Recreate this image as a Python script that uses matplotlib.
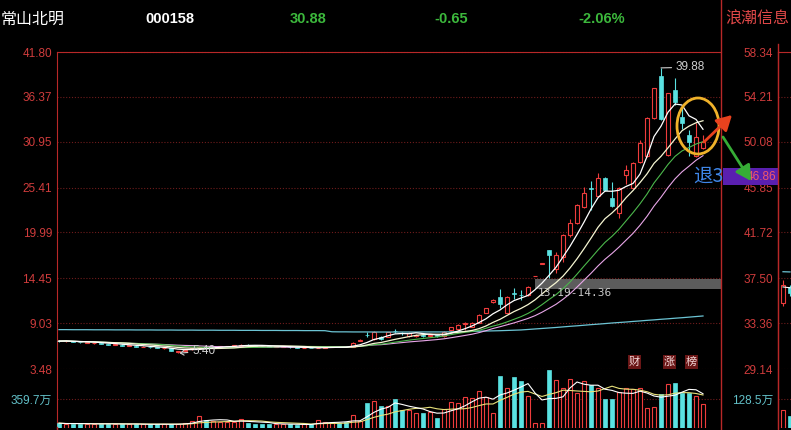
import numpy as np
import pandas as pd
import matplotlib
matplotlib.use("Agg")
import matplotlib.pyplot as plt
from matplotlib.patches import Rectangle, Ellipse

W, H = 791, 430

# ---------------- data (常山北明 000158, daily) ----------------
open_ = [6.92, 6.82, 6.86, 6.76, 6.66, 6.62, 6.62, 6.52, 6.40, 6.42, 6.28, 6.30, 6.14, 6.16, 6.08,
         5.98, 6.00, 5.55, 5.66, 5.84, 5.98, 6.12, 6.06, 6.14, 6.20, 6.26, 6.32, 6.44, 6.36, 6.30,
         6.24, 6.16, 6.16, 6.16, 6.08, 6.00, 6.04, 6.00, 6.04, 6.12, 6.18, 6.16, 6.18, 6.90,
         7.62, 7.11, 7.35, 7.35, 8.10, 7.85, 7.47, 7.50, 7.60, 7.45, 7.55, 7.47, 8.19, 8.32, 8.90,
         8.60, 9.04, 10.25, 11.58, 12.20, 10.25, 12.70, 12.45, 12.40, 14.73, 16.20, 17.82, 15.60,
         17.02, 19.68, 21.13, 23.06, 25.30, 24.39, 26.57, 24.15, 22.34, 26.90, 25.36, 28.50, 29.19,
         33.82, 38.90, 29.31, 37.20, 33.94, 31.77, 29.19, 30.20]
high = [6.98, 6.95, 6.90, 6.80, 6.78, 6.70, 6.66, 6.55, 6.50, 6.45, 6.36, 6.33, 6.22, 6.18, 6.10,
        6.06, 6.02, 5.70, 5.86, 6.02, 6.20, 6.16, 6.20, 6.26, 6.32, 6.38, 6.56, 6.48, 6.40, 6.34,
        6.28, 6.24, 6.22, 6.20, 6.10, 6.08, 6.06, 6.10, 6.24, 6.22, 6.22, 6.20, 6.70, 7.05,
        7.90, 8.05, 7.45, 8.00, 8.35, 8.00, 7.90, 7.70, 7.70, 7.70, 7.60, 8.05, 8.60, 8.90, 9.16,
        9.20, 10.10, 10.90, 11.90, 13.15, 12.30, 13.30, 13.00, 13.50, 14.73, 16.20, 17.82, 17.60,
        19.80, 21.60, 23.40, 25.48, 26.20, 27.17, 26.70, 26.08, 25.50, 28.10, 28.50, 31.16, 33.90,
        37.50, 39.88, 36.90, 38.65, 35.03, 32.37, 33.22, 31.77]
low = [6.80, 6.78, 6.72, 6.66, 6.62, 6.55, 6.48, 6.40, 6.36, 6.28, 6.24, 6.14, 6.10, 6.04, 5.96,
       5.94, 5.62, 5.40, 5.62, 5.80, 5.95, 6.02, 6.04, 6.10, 6.16, 6.22, 6.30, 6.32, 6.26, 6.20,
       6.14, 6.12, 6.10, 6.04, 5.98, 5.98, 5.96, 5.98, 6.02, 6.08, 6.10, 6.08, 6.16, 6.85,
       7.30, 7.00, 6.95, 7.30, 7.80, 7.60, 7.40, 7.40, 7.40, 7.35, 7.35, 7.40, 8.10, 8.20, 8.19,
       8.50, 9.00, 10.20, 11.50, 10.90, 10.20, 11.90, 11.80, 12.30, 14.73, 16.20, 14.50, 15.10,
       16.41, 19.44, 21.00, 23.00, 22.70, 24.30, 25.00, 23.10, 21.73, 25.90, 25.20, 28.40, 29.10,
       33.70, 33.60, 29.20, 35.39, 32.49, 29.19, 29.10, 30.10]
close = [6.85, 6.88, 6.76, 6.70, 6.72, 6.65, 6.52, 6.44, 6.46, 6.31, 6.33, 6.18, 6.19, 6.08, 6.00,
         6.03, 5.68, 5.62, 5.82, 5.98, 6.12, 6.06, 6.16, 6.22, 6.28, 6.34, 6.44, 6.36, 6.30, 6.24,
         6.18, 6.20, 6.18, 6.08, 6.02, 6.05, 6.00, 6.06, 6.14, 6.18, 6.14, 6.12, 6.62, 6.98,
         7.58, 7.95, 7.05, 7.95, 8.07, 7.83, 7.83, 7.60, 7.50, 7.60, 7.45, 7.95, 8.56, 8.80, 9.00,
         9.10, 10.01, 10.85, 11.82, 11.30, 12.18, 12.60, 12.40, 13.39, 14.73, 16.20, 17.26, 17.30,
         19.68, 21.13, 23.30, 24.75, 25.20, 26.57, 25.12, 23.18, 25.36, 27.50, 28.38, 30.80, 33.82,
         37.45, 33.70, 36.84, 35.75, 33.22, 30.92, 31.53, 30.88]
# volume in 万手
volume = [55, 45, 50, 48, 45, 42, 45, 50, 45, 40, 42, 45, 40, 38, 40, 45, 42, 45, 55, 85,
          150, 100, 80, 75, 70, 70, 112, 60, 50, 45, 48, 42, 40, 38, 35, 38, 40, 100, 75, 60, 55,
          69, 158, 82, 313, 334, 271, 271, 360, 221, 221, 183, 183, 196, 120, 233, 322, 309, 385,
          372, 461, 385, 183, 650, 498, 637, 587, 398, 57, 57, 726, 599, 498, 612, 435, 587, 536,
          498, 360, 360, 448, 498, 486, 498, 246, 259, 423, 549, 562, 435, 435, 398, 297]
# long moving-average line (cyan)
ma_long = [8.24, 8.24, 8.23, 8.23, 8.23, 8.22, 8.22, 8.22, 8.21, 8.21, 8.21, 8.20, 8.20, 8.20,
           8.19, 8.19, 8.19, 8.18, 8.18, 8.18, 8.17, 8.17, 8.17, 8.16, 8.16, 8.16, 8.15, 8.15,
           8.15, 8.14, 8.14, 8.14, 8.13, 8.13, 8.13, 8.12, 8.12, 8.12, 8.11,
           7.98, 7.97, 7.97, 7.96, 7.96, 7.96, 7.95, 7.95, 7.95, 7.95, 7.95, 7.95, 7.95, 7.96,
           7.96, 7.96, 7.96,
           7.97, 7.99, 8.01, 8.03, 8.05, 8.07, 8.09, 8.11, 8.14, 8.17, 8.20, 8.26, 8.32, 8.38,
           8.44, 8.50, 8.57, 8.64, 8.70, 8.77, 8.84, 8.90, 8.97, 9.04, 9.10, 9.16, 9.23, 9.29,
           9.36, 9.42, 9.49, 9.55, 9.62, 9.68, 9.75, 9.82, 9.89]

price_ticks = [41.80, 36.37, 30.95, 25.41, 19.99, 14.45, 9.03, 3.48]
vol_tick = 359.7
vol_top = 738.0
band_low, band_high = 13.19, 14.36
hi_label, lo_label = 39.88, 5.40

# 浪潮信息 (right-hand panel, only its first candles visible)
r_ticks = [58.34, 54.21, 50.08, 45.85, 41.72, 37.50, 33.36, 29.14]
r_open = [35.22, 36.70]
r_high = [37.30, 36.90]
r_low = [34.90, 35.90]
r_close = [36.88, 36.10]
r_volume = [79, 52]
r_ma_a = [38.10, 38.08]
r_ma_b = [36.70, 36.62]
r_vol_tick = 128.5
r_vol_top = 263.8
r_mark = 46.86

header = ["常山北明", "000158", "30.88", "-0.65", "-2.06%"]
header2 = "浪潮信息"

# ---------------- styling ----------------
BG = 'black'
RED_LINE = '#b82828'
GRID = '#6e1c1c'
LBL = '#d03c3c'
UP = '#ee3c3c'
DN = '#5ae2e2'
NUM = ['Liberation Sans', 'DejaVu Sans']
CJK = ['Noto Sans CJK SC', 'DejaVu Sans']
MIX = ['Liberation Sans', 'Noto Sans CJK SC', 'DejaVu Sans']

fig = plt.figure(figsize=(W / 100, H / 100), dpi=100, facecolor=BG)


def box(x0, y0, x1, y1):
    return [x0 / W, 1 - y1 / H, (x1 - x0) / W, (y1 - y0) / H]


ax = fig.add_axes(box(57, 52, 721, 369))
axv = fig.add_axes(box(57, 369, 721, 427.5))
axr = fig.add_axes(box(778, 52, 791, 369))
axrv = fig.add_axes(box(778, 369, 791, 427.5))

for a in (ax, axv, axr, axrv):
    a.set_facecolor(BG)
    for s in a.spines.values():
        s.set_visible(False)
    a.tick_params(axis='both', length=0, pad=3.5)
    a.set_xticks([])
    a.set_axisbelow(True)

n = len(close)
xs = np.arange(n)
xlo = -2 / 7
for a in (ax, axv):
    a.set_xlim(xlo, xlo + 664 / 7)
for a in (axr, axrv):
    a.set_xlim(-5 / 7, -5 / 7 + 13 / 7)

ax.set_ylim(price_ticks[-1], price_ticks[0])
axv.set_ylim(0, vol_top)
axr.set_ylim(r_ticks[-1], r_ticks[0])
axrv.set_ylim(0, r_vol_top)

ax.set_yticks(price_ticks)
ax.set_yticklabels([f"{v:.2f}" for v in price_ticks], color=LBL, fontsize=8.5, family=NUM)
axr.set_yticks(r_ticks)
axr.set_yticklabels([f"{v:.2f}" for v in r_ticks], color=LBL, fontsize=8.5, family=NUM)
axv.set_yticks([vol_tick])
axv.set_yticklabels([f"{vol_tick}万"], color='#62c0c8', fontsize=8.5, family=MIX)
axrv.set_yticks([r_vol_tick])
axrv.set_yticklabels([f"{r_vol_tick}万"], color='#62c0c8', fontsize=8.5, family=MIX)

for a in (ax, axv, axr, axrv):
    a.yaxis.grid(True, color=GRID, lw=0.8, ls=(0, (1, 1.6)))
    for gl in a.get_ygridlines():
        gl.set_clip_on(False)
    a.spines['left'].set_visible(True)
    a.spines['left'].set_color(RED_LINE)
for a in (ax, axr):
    a.spines['top'].set_visible(True)
    a.spines['top'].set_color(RED_LINE)


def draw_candles(a, px, o, h, l, c, width=0.7, minh=0.05):
    o, h, l, c = (np.asarray(v, float) for v in (o, h, l, c))
    up = c >= o
    cols = np.where(up, UP, DN)
    a.vlines(px, l, h, colors=cols, lw=0.8, zorder=2)
    bot = np.minimum(o, c)
    ht = np.maximum(np.abs(c - o), minh)
    a.bar(px[up], ht[up], bottom=bot[up], width=width, facecolor=BG,
          edgecolor=UP, lw=0.8, zorder=3)
    a.bar(px[~up], ht[~up], bottom=bot[~up], width=width, facecolor=DN,
          edgecolor=DN, lw=0.5, zorder=3)
    return up


def draw_volume(a, px, v, up, width=0.7):
    v = np.asarray(v, float)
    a.bar(px[up], v[up], width=width, facecolor=BG, edgecolor=UP, lw=0.8, zorder=3)
    a.bar(px[~up], v[~up], width=width, facecolor=DN, edgecolor=DN, lw=0.5, zorder=3)


# band 13.19-14.36
ax.add_patch(Rectangle((68.0, band_low), xlo + 664 / 7 - 68.0, band_high - band_low,
                       facecolor='#5c5c5c', edgecolor='none', zorder=1.5))
ax.text(68.4, 12.62, f"{band_low:.2f}-{band_high:.2f}", color='#c8c8c8', fontsize=8,
        family='DejaVu Sans Mono', va='center', ha='left', zorder=6)

up = draw_candles(ax, xs, open_, high, low, close)

s = pd.Series(close)
ax.plot(xs, ma_long, color='#6cc4d4', lw=0.9, zorder=4)
ax.plot(xs, s.rolling(20, min_periods=1).mean(), color='#e8a6e8', lw=0.8, zorder=4)
ax.plot(xs, s.rolling(15, min_periods=1).mean(), color='#4cb84c', lw=0.8, zorder=4)
ax.plot(xs, s.rolling(10, min_periods=1).mean(), color='#f6f6d2', lw=0.9, zorder=4)
ax.plot(xs, s.rolling(5, min_periods=1).mean(), color='#ffffff', lw=0.9, zorder=4)

ihi = int(np.argmax(high))
ilo = int(np.argmin(low))
ax.annotate(f"{hi_label:.2f}", xy=(ihi, hi_label), xytext=(ihi + 2.1, hi_label + 0.08),
            color='#cfcfcf', fontsize=8.5, family=NUM, va='center', ha='left',
            arrowprops=dict(arrowstyle='-', color='#cfcfcf', lw=0.8, shrinkA=1, shrinkB=0),
            zorder=6)
ax.annotate(f"{lo_label:.2f}", xy=(ilo + 0.2, lo_label), xytext=(ilo + 2.0, lo_label + 0.22),
            color='#cfcfcf', fontsize=8.5, family=NUM, va='center', ha='left',
            arrowprops=dict(arrowstyle='->,head_length=0.3,head_width=0.2', color='#cfcfcf',
                            lw=0.8, shrinkA=1, shrinkB=0),
            zorder=6)

draw_volume(axv, xs, volume, up)
vs = pd.Series(volume, dtype=float)
axv.plot(xs, vs.rolling(10, min_periods=1).mean(), color='#e8e27a', lw=0.8, zorder=4)
axv.plot(xs, vs.rolling(5, min_periods=1).mean(), color='#ffffff', lw=0.8, zorder=4)

# right panel
rx = np.arange(len(r_close))
rup = draw_candles(axr, rx, r_open, r_high, r_low, r_close)
axr.plot(rx, r_ma_a, color='#6cc4d4', lw=0.9, zorder=4)
axr.plot(rx, r_ma_b, color='#ffffff', lw=0.8, zorder=4)
draw_volume(axrv, rx, r_volume, rup)

# ---------------- overlay (header, frame lines, annotations) ----------------
ov = fig.add_axes([0, 0, 1, 1])
ov.set_xlim(0, W)
ov.set_ylim(H, 0)
ov.axis('off')
ov.patch.set_alpha(0)
ov.set_zorder(20)

ov.plot([721, 721], [0, H], color=RED_LINE, lw=1.0)
ov.plot([778, 778], [44, H], color=RED_LINE, lw=1.0)
ov.plot([57, 57], [427, H], color=RED_LINE, lw=1.0)

ov.text(1, 19, header[0], color='white', fontsize=11.5, family=CJK, va='center', ha='left')
ov.text(145, 19, header[1], color='white', fontsize=10.5, family=NUM, weight='bold',
        va='center', ha='left')
GREEN = '#3cb83c'
ov.text(290, 19, header[2], color=GREEN, fontsize=10.5, family=NUM, weight='bold',
        va='center', ha='left')
ov.text(434, 19, header[3], color=GREEN, fontsize=10.5, family=NUM, weight='bold',
        va='center', ha='left')
ov.text(578, 19, header[4], color=GREEN, fontsize=10.5, family=NUM, weight='bold',
        va='center', ha='left')
ov.text(725, 19, header2, color='#e04848', fontsize=11.5, family=CJK, va='center', ha='left')

# purple marker bar with 46.86 and 退3
ov.add_patch(Rectangle((723, 168), 55, 17, facecolor='#5a1fb0', edgecolor='none'))
ov.text(776, 176.5, f"{r_mark:.2f}", color='#f05a6a', fontsize=8.5, family=NUM,
        va='center', ha='right')
ov.text(693, 176, "退3", color='#3f86e8', fontsize=14, family=CJK, va='center', ha='left')

# circle and arrows
ov.add_patch(Ellipse((698, 126), 42, 56, fill=False, edgecolor='#f0b22a', lw=2.0))
ov.annotate('', xy=(732, 115), xytext=(704, 142),
            arrowprops=dict(arrowstyle='-|>,head_length=0.9,head_width=0.5',
                            color='#e8421e', lw=2.0, shrinkA=0, shrinkB=0))
ov.annotate('', xy=(751, 181), xytext=(723, 137),
            arrowprops=dict(arrowstyle='-|>,head_length=0.9,head_width=0.5',
                            color='#36ac36', lw=2.0, shrinkA=0, shrinkB=0))

# 财 涨 榜 tags
for cx, ch in ((634, "财"), (669, "涨"), (691, "榜")):
    ov.add_patch(Rectangle((cx - 6.5, 355), 13, 14, facecolor='#6a1616', edgecolor='none'))
    ov.text(cx, 362, ch, color='#f2d6d6', fontsize=8, family=CJK, va='center', ha='center')

fig.savefig('out.png', dpi=100, facecolor=BG)
